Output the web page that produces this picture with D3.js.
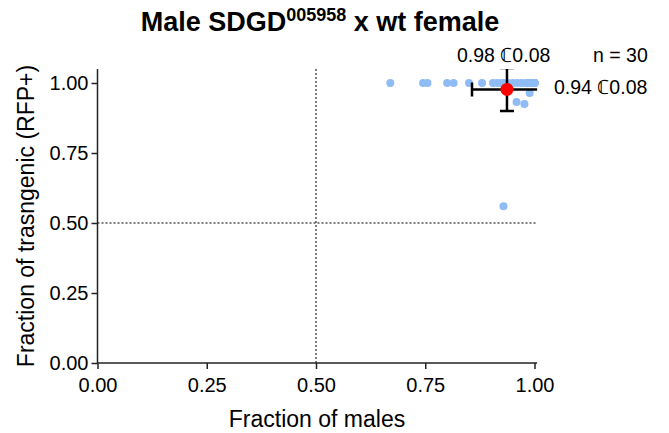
<!DOCTYPE html>
<html>
<head>
<meta charset="utf-8">
<script src="https://cdn.jsdelivr.net/npm/d3@7"></script>
<style>
  body { margin: 0; background: #fff; }
  text { font-family: "Liberation Sans", Arial, sans-serif; }
</style>
</head>
<body>
<svg id="chart" width="669" height="433"></svg>
<script>
// fraction of males per cross (x) and fraction RFP+ (y)
const maleFrac = [
  0.67, 0.745, 0.755, 0.80, 0.815, 0.85, 0.88, 0.905, 0.915, 0.925,
  0.93, 0.94, 0.95, 0.96, 0.97, 0.98, 0.985, 0.99, 0.995, 1.0,
  1.0, 1.0, 1.0, 1.0, 1.0, 1.0, 0.989, 0.959, 0.977, 0.929
];
const rfpFrac = [
  1, 1, 1, 1, 1, 1, 1, 1, 1, 1,
  1, 1, 1, 1, 1, 1, 1, 1, 1, 1,
  1, 1, 1, 1, 1, 1, 0.964, 0.932, 0.925, 0.56
];
const meanX = 0.937, sdX = 0.08;
const meanY = 0.977, sdY = 0.077;
const ticks = [0, 0.25, 0.5, 0.75, 1];

const svg = d3.select("#chart");

const x = d3.scaleLinear().domain([0, 1]).range([97.5, 534.5]);
const y = d3.scaleLinear().domain([0, 1]).range([363, 83]);

const axisColor = "#222";

// clip for error bars (plot area)
svg.append("clipPath").attr("id", "clip")
  .append("rect")
  .attr("x", x(0)).attr("y", y(1.05))
  .attr("width", x(1.006) - x(0)).attr("height", y(0) - y(1.05));

// dotted reference lines
svg.append("line")
  .attr("x1", x(0.5)).attr("x2", x(0.5))
  .attr("y1", y(0)).attr("y2", y(1.05))
  .attr("stroke", "#000").attr("stroke-width", 1).attr("stroke-dasharray", "2,2");
svg.append("line")
  .attr("x1", x(0)).attr("x2", x(1.006))
  .attr("y1", y(0.5)).attr("y2", y(0.5))
  .attr("stroke", "#000").attr("stroke-width", 1).attr("stroke-dasharray", "2,2");

// axes
const xAxis = svg.append("g")
  .attr("transform", "translate(0," + y(0) + ")")
  .call(d3.axisBottom(x).tickValues(ticks).tickFormat(d3.format(".2f")).tickSizeOuter(0).tickSize(6));
xAxis.select(".domain").attr("d", "M" + x(0) + ",0H" + x(1.006));

const yAxis = svg.append("g")
  .attr("transform", "translate(" + x(0) + ",0)")
  .call(d3.axisLeft(y).tickValues(ticks).tickFormat(d3.format(".2f")).tickSizeOuter(0).tickSize(6));
yAxis.select(".domain").attr("d", "M0," + y(0) + "V" + y(1.05));

[xAxis, yAxis].forEach(function (a) {
  a.select(".domain").attr("stroke", axisColor).attr("stroke-width", 1.5);
  a.selectAll(".tick line").attr("stroke", axisColor).attr("stroke-width", 1.5);
  a.selectAll(".tick text")
    .attr("fill", "#000")
    .style("font-size", "20px")
    .style("font-family", "Liberation Sans, Arial, sans-serif");
});
xAxis.selectAll(".tick text").attr("y", 29).attr("dy", 0);
yAxis.selectAll(".tick text").attr("x", -9);

// points
svg.append("g")
  .selectAll("circle")
  .data(maleFrac)
  .enter()
  .append("circle")
  .attr("cx", function (d) { return x(d); })
  .attr("cy", function (d, i) { return y(rfpFrac[i]); })
  .attr("r", 4)
  .attr("fill", "#8fbcf5");

// mean +/- sd
const eb = svg.append("g").attr("clip-path", "url(#clip)")
  .attr("stroke", "#000").attr("stroke-width", 2.5);
eb.append("line")
  .attr("x1", x(meanX - sdX)).attr("x2", x(meanX + sdX))
  .attr("y1", y(meanY)).attr("y2", y(meanY));
eb.append("line")
  .attr("x1", x(meanX)).attr("x2", x(meanX))
  .attr("y1", y(meanY - sdY)).attr("y2", y(meanY + sdY));
eb.append("line")
  .attr("x1", x(meanX - sdX)).attr("x2", x(meanX - sdX))
  .attr("y1", y(meanY) - 7).attr("y2", y(meanY) + 7);
eb.append("line")
  .attr("x1", x(meanX + sdX)).attr("x2", x(meanX + sdX))
  .attr("y1", y(meanY) - 7).attr("y2", y(meanY) + 7);
eb.append("line")
  .attr("x1", x(meanX) - 7).attr("x2", x(meanX) + 7)
  .attr("y1", y(meanY - sdY)).attr("y2", y(meanY - sdY));
eb.append("line")
  .attr("x1", x(meanX) - 7).attr("x2", x(meanX) + 7)
  .attr("y1", y(meanY + sdY)).attr("y2", y(meanY + sdY));

svg.append("circle")
  .attr("cx", x(meanX)).attr("cy", y(meanY))
  .attr("r", 6.5).attr("fill", "#ff0000");

// annotations
svg.append("text").attr("x", 457).attr("y", 62)
  .style("font-size", "19.5px").text("0.98 \u21020.08");
svg.append("text").attr("x", 593).attr("y", 62)
  .style("font-size", "19.5px").text("n = 30");
svg.append("text").attr("x", 554).attr("y", 94)
  .style("font-size", "19.5px").text("0.94  \u21020.08");

// title
const title = svg.append("text")
  .attr("x", 320).attr("y", 31)
  .attr("text-anchor", "middle")
  .style("font-size", "27px").style("font-weight", "bold");
title.append("tspan").text("Male SDGD");
title.append("tspan").attr("dy", -10).style("font-size", "18px").text("005958");
title.append("tspan").attr("dy", 10).text(" x wt female");

// axis titles
svg.append("text")
  .attr("x", 317).attr("y", 427)
  .attr("text-anchor", "middle")
  .style("font-size", "23px").text("Fraction of males");
svg.append("text")
  .attr("transform", "translate(34,216) rotate(-90)")
  .attr("text-anchor", "middle")
  .style("font-size", "23px").text("Fraction of trasngenic (RFP+)");
</script>
</body>
</html>
